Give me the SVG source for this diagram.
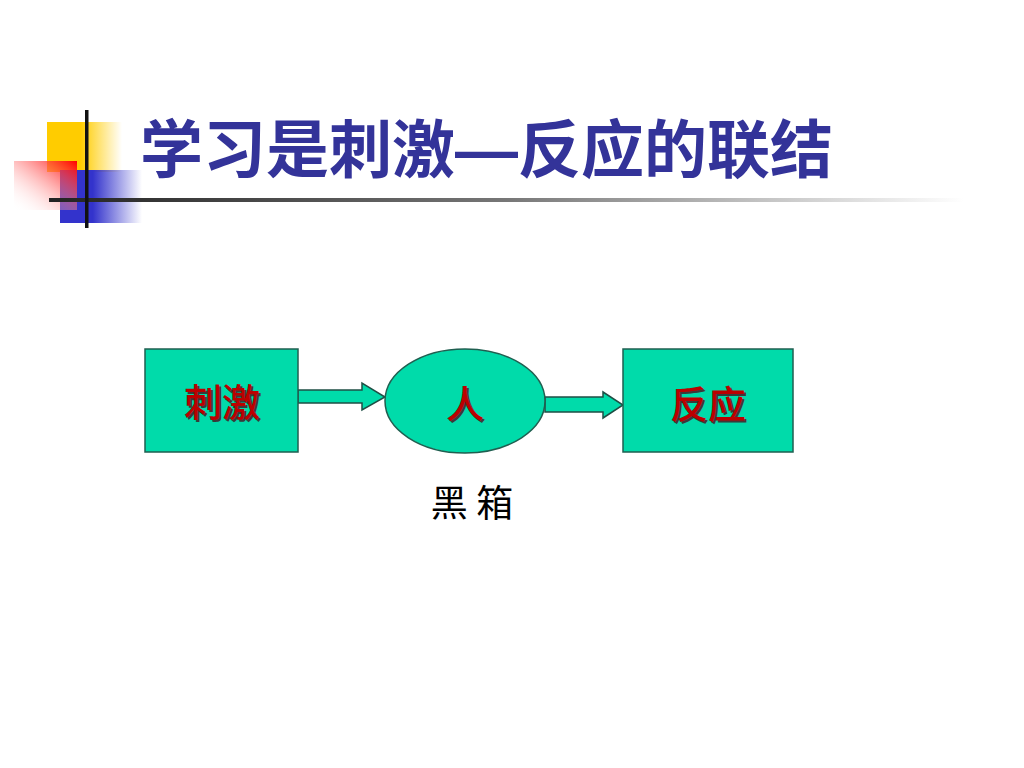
<svg xmlns="http://www.w3.org/2000/svg" width="1024" height="768" viewBox="0 0 1024 768">
<defs>
<linearGradient id="gy" x1="0" y1="0" x2="1" y2="0"><stop offset="0" stop-color="#FFCC00"/><stop offset="0.45" stop-color="#FFCC00"/><stop offset="1" stop-color="#FFCC00" stop-opacity="0"/></linearGradient>
<linearGradient id="gb" x1="0" y1="0" x2="1" y2="0"><stop offset="0" stop-color="#3333CC"/><stop offset="0.4" stop-color="#3333CC"/><stop offset="1" stop-color="#3333CC" stop-opacity="0"/></linearGradient>
<linearGradient id="gr" x1="1" y1="0" x2="0" y2="1"><stop offset="0" stop-color="#FF0000"/><stop offset="1" stop-color="#FFFFFF" stop-opacity="0"/></linearGradient>
<linearGradient id="gl" x1="0" y1="0" x2="1" y2="0"><stop offset="0" stop-color="#222222"/><stop offset="0.5" stop-color="#777777"/><stop offset="1" stop-color="#FFFFFF"/></linearGradient>
<style>
.node{fill:#00DBAA;stroke:#1F5F50;stroke-width:1.5}
.arrow{fill:#00DBAA;stroke:#1F4F45;stroke-width:1.5}
.lbl{font-family:"Noto Sans CJK SC",sans-serif;font-size:38px;font-weight:500;text-anchor:middle;fill:#BB0000}
.sh{font-family:"Noto Sans CJK SC",sans-serif;font-size:38px;font-weight:500;text-anchor:middle;fill:#3A3A3A}
.title{font-family:"Liberation Sans","Noto Sans CJK SC",sans-serif;font-size:63px;font-weight:bold;fill:#333399}
</style>
</defs>
<rect width="1024" height="768" fill="#FFFFFF"/>
<g id="decoration">
<rect x="47" y="122" width="75" height="50" fill="url(#gy)"/>
<rect x="60" y="170" width="82" height="53" fill="url(#gb)"/>
<rect x="14" y="161" width="63" height="49" fill="url(#gr)"/>
<rect x="49" y="198" width="915" height="4" fill="url(#gl)"/>
<rect x="85" y="110" width="3.5" height="118" fill="#111111"/>
</g>
<g id="title"><text class="title" x="140" y="172">学习是刺激—反应的联结</text></g>
<g id="connectors">
<path class="arrow" d="M298,390 H362 V383 L385,397 L362,410 V403 H298 Z"/>
<path class="arrow" d="M545,397 H603 V392 L623,405 L603,418 V412 H545 Z"/>
</g>
<g id="stimulus">
<rect class="node" x="145" y="349" width="153" height="103"/>
<text class="sh" x="224" y="418">刺激</text>
<text class="lbl" x="222" y="416">刺激</text>
</g>
<g id="person">
<ellipse class="node" cx="465" cy="401" rx="80" ry="52"/>
<text class="sh" x="467" y="420">人</text>
<text class="lbl" x="465" y="418">人</text>
</g>
<g id="response">
<rect class="node" x="623" y="349" width="170" height="103"/>
<text class="sh" x="710" y="420">反应</text>
<text class="lbl" x="708" y="418">反应</text>
</g>
<g id="blackbox"><text x="472" y="517" font-family="Noto Sans CJK SC, sans-serif" font-size="37" text-anchor="middle" fill="#000000">黑 箱</text></g>
</svg>
